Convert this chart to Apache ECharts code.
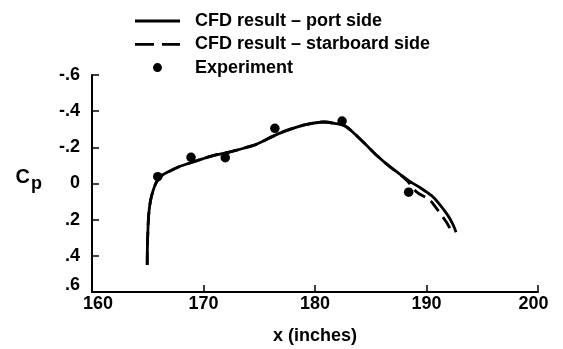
<!DOCTYPE html>
<html>
<head>
<meta charset="utf-8">
<script src="https://cdn.jsdelivr.net/npm/echarts@6/dist/echarts.min.js"></script>
<style>
html,body{margin:0;padding:0;background:#fff;}
#chart{width:563px;height:349px;}
</style>
</head>
<body>
<div id="chart"></div>
<script>
// ---- data ----
const xTicks = [160, 170, 180, 190, 200];
const yTicks = [-0.6, -0.4, -0.2, 0, 0.2, 0.4, 0.6];
const yTickLabels = ['-.6', '-.4', '-.2', '0', '.2', '.4', '.6'];

const seriesNames = ['CFD result \u2013 port side', 'CFD result \u2013 starboard side', 'Experiment'];

const portX = [164.95, 164.97, 165.02, 165.09, 165.25, 165.5, 165.8, 166.28, 166.9, 167.8, 168.86, 170.0, 171.11, 172.4, 173.6, 174.8, 176.26, 177.55, 179.16, 180.77, 181.74, 182.7, 183.67, 184.64, 185.6, 186.57, 187.54, 188.5, 189.47, 190.43, 191.1, 191.9, 192.4, 192.65];
const portCp = [0.45, 0.35, 0.25, 0.17, 0.094, 0.035, -0.01, -0.045, -0.067, -0.093, -0.115, -0.138, -0.158, -0.175, -0.195, -0.218, -0.262, -0.295, -0.325, -0.34, -0.333, -0.318, -0.268, -0.21, -0.152, -0.1, -0.055, -0.012, 0.025, 0.066, 0.11, 0.175, 0.23, 0.27];

const starX = [164.95, 164.97, 165.02, 165.09, 165.25, 165.5, 165.8, 166.28, 166.9, 167.8, 168.86, 170.0, 171.11, 172.4, 173.6, 174.8, 176.26, 177.55, 179.16, 180.77, 181.74, 182.7, 183.67, 184.64, 185.6, 186.57, 187.54, 188.35, 189.1, 190.3, 190.9, 191.78, 192.2, 192.45];
const starCp = [0.45, 0.35, 0.25, 0.17, 0.094, 0.035, -0.01, -0.045, -0.067, -0.093, -0.115, -0.138, -0.158, -0.175, -0.195, -0.218, -0.262, -0.295, -0.325, -0.34, -0.333, -0.318, -0.268, -0.21, -0.152, -0.1, -0.055, -0.009, 0.046, 0.092, 0.138, 0.213, 0.258, 0.278];

const expX = [165.9, 168.88, 171.95, 176.4, 182.43, 188.4];
const expCp = [-0.038, -0.145, -0.143, -0.305, -0.345, 0.048];

// ---- build ----
const FONT = '"Liberation Sans", Arial, Helvetica, sans-serif';
function zip(a, b) { return a.map((v, i) => [v, b[i]]); }
const labelFont = {fontFamily: FONT, fontSize: 18, fontWeight: 'bold', color: '#000'};

const chart = echarts.init(document.getElementById('chart'), null, {renderer: 'canvas'});
chart.setOption({
  animation: false,
  backgroundColor: '#ffffff',
  textStyle: {fontFamily: FONT, color: '#000'},
  grid: {left: 92, right: 25, top: 75, bottom: 57, containLabel: false, outerBoundsMode: 'none'},
  legend: {
    orient: 'vertical',
    left: 135,
    top: 11,
    padding: 0,
    itemWidth: 45,
    itemHeight: 9,
    itemGap: 3.3,
    selectedMode: false,
    textStyle: Object.assign({lineHeight: 20, padding: [0, 0, 0, 10]}, labelFont),
    data: [
      {name: seriesNames[0], icon: 'path://M0,0H45V2.8H0Z'},
      {name: seriesNames[1], icon: 'path://M0,0H19V2.8H0ZM27,0H45V2.8H27Z'},
      {name: seriesNames[2], icon: 'circle'}
    ]
  },
  xAxis: {
    type: 'value',
    min: xTicks[0],
    max: xTicks[xTicks.length - 1],
    interval: 10,
    name: 'x (inches)',
    nameLocation: 'middle',
    nameGap: 35,
    nameTextStyle: labelFont,
    axisLine: {show: true, onZero: false, lineStyle: {color: '#000', width: 2}},
    axisTick: {show: true, inside: true, length: 7, lineStyle: {color: '#000', width: 1.5}},
    axisLabel: Object.assign({
      margin: 3,
      formatter: function (v) {
        if (v === xTicks[0]) return '{first|' + v + '}';
        if (v === xTicks[xTicks.length - 1]) return '{last|' + v + '}';
        return String(v);
      },
      rich: {
        first: Object.assign({padding: [0, 0, 0, 12]}, labelFont),
        last: Object.assign({padding: [0, 9, 0, 0]}, labelFont)
      }
    }, labelFont),
    splitLine: {show: false}
  },
  yAxis: {
    type: 'value',
    inverse: true,
    min: yTicks[0],
    max: yTicks[yTicks.length - 1],
    interval: 0.2,
    name: '{c|C}{p|p}',
    nameLocation: 'middle',
    nameRotate: 0,
    nameGap: 50,
    nameTextStyle: {
      fontFamily: FONT, color: '#000',
      padding: [0, 0, 12, 0],
      rich: {
        c: {fontFamily: FONT, fontSize: 20, fontWeight: 'bold', color: '#000'},
        p: {fontFamily: FONT, fontSize: 18, fontWeight: 'bold', color: '#000', padding: [14, 0, 0, 1]}
      }
    },
    axisLine: {show: true, onZero: false, lineStyle: {color: '#000', width: 2}},
    axisTick: {show: true, inside: true, length: 7, lineStyle: {color: '#000', width: 1.5}},
    axisLabel: Object.assign({
      margin: 12,
      formatter: function (v) {
        for (let i = 0; i < yTicks.length; i++) {
          if (Math.abs(yTicks[i] - v) < 1e-6) {
            return i === yTicks.length - 1 ? '{last|' + yTickLabels[i] + '}' : yTickLabels[i];
          }
        }
        return '';
      },
      rich: {
        last: Object.assign({padding: [0, 0, 14, 0]}, labelFont)
      }
    }, labelFont),
    splitLine: {show: false}
  },
  series: [
    {
      name: seriesNames[0],
      type: 'line',
      data: zip(portX, portCp),
      symbol: 'none',
      smooth: 0.3,
      z: 3,
      lineStyle: {color: '#000', width: 2.8, type: 'solid'},
      itemStyle: {color: '#000'}
    },
    {
      name: seriesNames[1],
      type: 'line',
      data: zip(starX, starCp),
      symbol: 'none',
      smooth: 0.3,
      z: 2,
      lineStyle: {color: '#000', width: 2.8, type: [13, 7]},
      itemStyle: {color: '#000'}
    },
    {
      name: seriesNames[2],
      type: 'scatter',
      data: zip(expX, expCp),
      symbol: 'circle',
      symbolSize: 9.5,
      z: 4,
      itemStyle: {color: '#000', opacity: 1}
    }
  ]
});
</script>
</body>
</html>
